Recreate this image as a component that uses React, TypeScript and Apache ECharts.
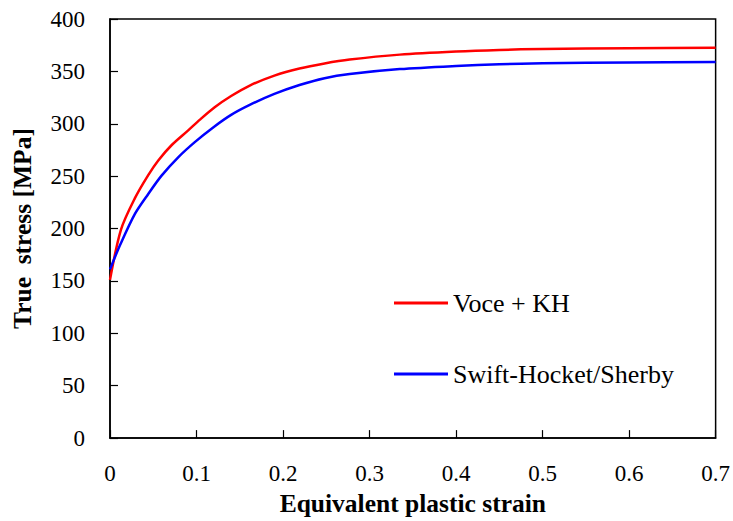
import React, { useEffect, useRef } from "react";
import * as echarts from "echarts";

const voceStrain = [0, 0.0127, 0.0288, 0.0442, 0.0558, 0.0711, 0.0904, 0.104, 0.121, 0.14, 0.1615, 0.19, 0.219, 0.248, 0.277, 0.335, 0.4, 0.45, 0.5, 0.6, 0.7];
const voceStress = [151, 199, 229, 251, 265, 279.5, 293.7, 304, 315.8, 326.5, 336.5, 346, 352.8, 357.6, 361.3, 366, 369, 370.5, 371.4, 372.2, 372.6];

const swiftStrain = [0, 0.0115, 0.0288, 0.0442, 0.0596, 0.0788, 0.098, 0.12, 0.14, 0.1615, 0.19, 0.219, 0.248, 0.277, 0.335, 0.4, 0.45, 0.5, 0.6, 0.7];
const swiftStress = [161, 184, 214, 233, 250.5, 268, 282.5, 297, 308.5, 318, 328.5, 337, 343.5, 347.5, 352.2, 355.2, 356.8, 357.8, 358.6, 359];

const seriesNames = ["Voce + KH", "Swift-Hocket/Sherby"];
const xTitle = "Equivalent plastic strain";
const yTitle = "True  stress [MPa]";

const FONT = "'Liberation Serif', 'Times New Roman', serif";

export default function App() {
  const ref = useRef<HTMLDivElement>(null);
  useEffect(() => {
    if (!ref.current) return;
    const chart = echarts.init(ref.current, null, { renderer: "svg" });
    const zip = (xs: number[], ys: number[]) => xs.map((x, i) => [x, ys[i]]);
    const legendText = { fontFamily: FONT, fontSize: 26, color: "#000", lineHeight: 26 };
    chart.setOption({
      animation: false,
      backgroundColor: "#fff",
      grid: {
        left: 110,
        right: 16,
        top: 19,
        bottom: 78,
        show: true,
        borderColor: "#000",
        borderWidth: 1.5,
      },
      xAxis: {
        type: "value",
        min: 0,
        max: 0.7,
        interval: 0.1,
        name: xTitle,
        nameLocation: "middle",
        nameGap: 43,
        nameTextStyle: { fontFamily: FONT, fontWeight: "bold", fontSize: 25.5, color: "#000" },
        axisLine: { show: true, lineStyle: { color: "#000", width: 1.5 } },
        axisTick: { show: true, inside: true, length: 8, lineStyle: { color: "#000", width: 1.2 } },
        axisLabel: { fontFamily: FONT, fontSize: 23, color: "#000", margin: 24 },
        splitLine: { show: false },
      },
      yAxis: {
        type: "value",
        min: 0,
        max: 400,
        interval: 50,
        name: yTitle,
        nameLocation: "middle",
        nameGap: 75,
        nameTextStyle: { fontFamily: FONT, fontWeight: "bold", fontSize: 25.5, color: "#000" },
        axisLine: { show: true, lineStyle: { color: "#000", width: 1.5 } },
        axisTick: { show: true, inside: true, length: 8, lineStyle: { color: "#000", width: 1.2 } },
        axisLabel: { fontFamily: FONT, fontSize: 23, color: "#000", margin: 25 },
        splitLine: { show: false },
      },
      legend: [
        {
          data: [{ name: seriesNames[0], icon: "rect" }],
          left: 394,
          top: 290,
          padding: 0,
          itemWidth: 54,
          itemHeight: 3,
          textStyle: legendText,
          selectedMode: false,
        },
        {
          data: [{ name: seriesNames[1], icon: "rect" }],
          left: 394,
          top: 361,
          padding: 0,
          itemWidth: 54,
          itemHeight: 3,
          textStyle: legendText,
          selectedMode: false,
        },
      ],
      series: [
        {
          name: seriesNames[0],
          type: "line",
          data: zip(voceStrain, voceStress),
          showSymbol: false,
          symbol: "none",
          smooth: 0.3,
          color: "#ff0000",
          lineStyle: { color: "#ff0000", width: 2.5 },
        },
        {
          name: seriesNames[1],
          type: "line",
          data: zip(swiftStrain, swiftStress),
          showSymbol: false,
          symbol: "none",
          smooth: 0.3,
          color: "#0000ff",
          lineStyle: { color: "#0000ff", width: 2.5 },
        },
      ],
    });
    return () => chart.dispose();
  }, []);
  return (
    <div
      ref={ref}
      style={{ position: "absolute", left: 0, top: 0, width: 733, height: 521, background: "#fff" }}
    />
  );
}
